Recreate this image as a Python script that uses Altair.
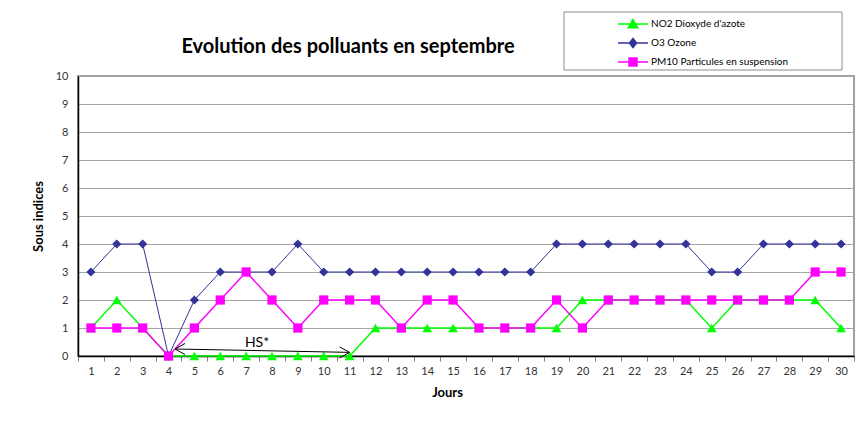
import altair as alt
import pandas as pd

# ---------------- data ----------------
days = list(range(1, 31))
no2 = [1, 2, 1, 0, 0, 0, 0, 0, 0, 0, 0, 1, 1, 1, 1, 1, 1, 1, 1, 2, 2, 2, 2, 2, 1, 2, 2, 2, 2, 1]
o3 = [3, 4, 4, 0, 2, 3, 3, 3, 4, 3, 3, 3, 3, 3, 3, 3, 3, 3, 4, 4, 4, 4, 4, 4, 3, 3, 4, 4, 4, 4]
pm10 = [1, 1, 1, 0, 1, 2, 3, 2, 1, 2, 2, 2, 1, 2, 2, 1, 1, 1, 2, 1, 2, 2, 2, 2, 2, 2, 2, 2, 3, 3]

series_names = ["NO2 Dioxyde d'azote", "O3 Ozone", "PM10 Particules en suspension"]
series_values = [no2, o3, pm10]
series_colors = ["#00FF00", "#333399", "#FF00FF"]
series_markers = ["triangle-up", "diamond", "square"]
series_marker_sizes = [95, 85, 85]
series_line_widths = [1.5, 1.0, 1.5]
# legend symbols: a line with the series marker (unit = 5 px)
legend_symbols = [
    "M-3,0L3,0M0,-0.9L0.95,0.75L-0.95,0.75Z",
    "M-3,0L3,0M0,-0.9L0.72,0L0,0.9L-0.72,0Z",
    "M-3,0L3,0M-0.8,-0.8L0.8,-0.8L0.8,0.8L-0.8,0.8Z",
]
y_ticks = list(range(0, 11))

chart_title = "Evolution des polluants en septembre"
x_title = "Jours"
y_title = "Sous indices"

hs_label = "HS*"
hs_arrow_x = [4.25, 11.0]
hs_arrow_y = [0.25, 0.13]
hs_label_x = [7.42]
hs_label_y = [0.46]
arrow_left_path = "M1,-0.55L0,0L1,0.55"
arrow_right_path = "M-1,-0.55L0,0L-1,0.55"

# ---------------- tables ----------------
rows = []
for name, vals in zip(series_names, series_values):
    for d, v in zip(days, vals):
        rows.append({"jour": d, "valeur": v, "serie": name})
df = pd.DataFrame(rows)

W, H = 776, 280
FONT = "Lato"

x_enc = alt.X(
    "jour:O",
    scale=alt.Scale(type="band", paddingInner=0, paddingOuter=0),
    axis=alt.Axis(
        title=x_title, labelAngle=0, tickBand="extent", grid=False,
        ticks=True, tickSize=5, tickColor="#808080", tickWidth=1,
        labelFont=FONT, labelFontSize=11, labelColor="#333333", labelPadding=4,
        domainColor="black", domainWidth=1.5,
        titleFont=FONT, titleFontSize=13, titleFontWeight="bold", titleColor="black",
        titlePadding=10, titleX=369,
    ),
)
y_axis = alt.Axis(
    title=y_title, values=y_ticks, grid=True, gridColor="#a6a6a6", gridWidth=1,
    ticks=False, labelFont=FONT, labelFontSize=11, labelColor="#333333", labelPadding=10,
    domainColor="black", domainWidth=1.5,
    titleFont=FONT, titleFontSize=13, titleFontWeight="bold", titleColor="black",
    titlePadding=10,
)
y_scale = alt.Scale(domain=[0, 10], nice=False, zero=True)
y_enc = alt.Y("valeur:Q", scale=y_scale, axis=y_axis)

layers = []
for i, name in enumerate(series_names):
    sub = alt.Chart(df).transform_filter(alt.datum.serie == name)
    layers.append(
        sub.mark_line(color=series_colors[i], strokeWidth=series_line_widths[i]).encode(x=x_enc, y=y_enc)
    )
    layers.append(
        sub.mark_point(
            shape=series_markers[i], size=series_marker_sizes[i], filled=True,
            color=series_colors[i], opacity=1,
        ).encode(x=x_enc, y=y_enc)
    )

# legend box
box = alt.Chart(pd.DataFrame({"b": [0]})).mark_rect(
    fill="white", stroke="#8c8c8c", strokeWidth=1
).encode(x=alt.value(486), x2=alt.value(764), y=alt.value(-64), y2=alt.value(-6))

legend_def = alt.Legend(
    title=None, orient="none", legendX=549, legendY=-58,
    symbolSize=100, symbolStrokeWidth=1.5, symbolOffset=0, labelOffset=12,
    padding=0, rowPadding=4, labelFont=FONT, labelFontSize=10, labelColor="black",
    labelLimit=300, symbolOpacity=1,
)
legend_layer = alt.Chart(df).transform_filter("datum.jour < 0").mark_point(
    filled=True, opacity=1, strokeWidth=1.5
).encode(
    color=alt.Color("serie:N", scale=alt.Scale(domain=series_names, range=series_colors), legend=legend_def),
    stroke=alt.Stroke("serie:N", scale=alt.Scale(domain=series_names, range=series_colors), legend=legend_def),
    shape=alt.Shape("serie:N", scale=alt.Scale(domain=series_names, range=legend_symbols), legend=legend_def),
)

title_mark = alt.Chart(pd.DataFrame({"t": [chart_title]})).mark_text(
    font=FONT, fontSize=20, fontWeight="bold", color="black", align="center", baseline="middle"
).encode(text="t:N", x=alt.value(270), y=alt.value(-29))

main = alt.layer(box, *layers, legend_layer, title_mark)

# annotation (HS* arrow)
ax_scale = alt.Scale(domain=[0.5, 30.5], nice=False, zero=False)
arrow_df = pd.DataFrame({"x": [hs_arrow_x[0]], "valeur": [hs_arrow_y[0]],
                         "x2": [hs_arrow_x[1]], "valeur2": [hs_arrow_y[1]]})
rule = alt.Chart(arrow_df).mark_rule(color="black", strokeWidth=1).encode(
    x=alt.X("x:Q", scale=ax_scale, axis=None), x2="x2:Q",
    y=y_enc, y2="valeur2:Q",
)
tip_left = alt.Chart(pd.DataFrame({"x": [hs_arrow_x[0]], "valeur": [hs_arrow_y[0]]})).mark_point(
    shape=arrow_left_path, size=400, filled=False, color="black", strokeWidth=1, opacity=1
).encode(x=alt.X("x:Q", scale=ax_scale, axis=None), y=y_enc)
tip_right = alt.Chart(pd.DataFrame({"x": [hs_arrow_x[1]], "valeur": [hs_arrow_y[1]]})).mark_point(
    shape=arrow_right_path, size=400, filled=False, color="black", strokeWidth=1, opacity=1
).encode(x=alt.X("x:Q", scale=ax_scale, axis=None), y=y_enc)
hs_text = alt.Chart(pd.DataFrame({"x": hs_label_x, "valeur": hs_label_y, "t": [hs_label]})).mark_text(
    font=FONT, fontSize=14, color="black", align="center", baseline="middle"
).encode(x=alt.X("x:Q", scale=ax_scale, axis=None), y=y_enc, text="t:N")
annot = alt.layer(rule, tip_left, tip_right, hs_text)

chart = alt.layer(main, annot).resolve_scale(x="independent").properties(
    width=W, height=H,
    autosize=alt.AutoSizeParams(type="none"),
    padding={"left": 70, "top": 68, "right": 4, "bottom": 55},
    background="white",
).configure_view(stroke="#a0a0a0", strokeWidth=2)

chart.save("out.html", embed_options={"renderer": "svg", "actions": False})
